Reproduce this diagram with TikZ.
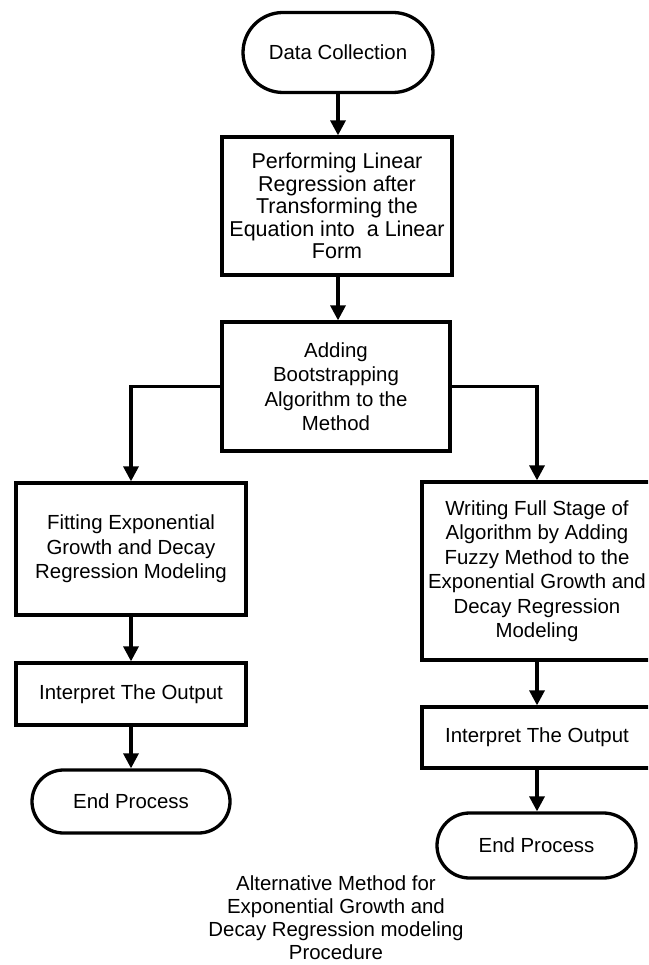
\documentclass[tikz,border=0pt]{standalone}
\usepackage{fontspec}
\setmainfont{Liberation Sans}
\usetikzlibrary{arrows.meta,shapes.misc}
\tikzset{
  box/.style={draw, line width=3.3pt, rectangle, align=center, inner sep=0pt,
    font=\fontsize{20.4}{24.5}\selectfont},
  term/.style={draw, line width=3.3pt, rounded rectangle, align=center, inner sep=0pt,
    font=\fontsize{20.4}{24.5}\selectfont},
  conn/.style={line width=3.3pt, -{Triangle[width=15pt,length=15pt]}},
  captext/.style={align=center, inner sep=0pt, font=\fontsize{20.4}{23}\selectfont}
}
\begin{document}
\begin{tikzpicture}[x=1pt,y=-1pt]
\useasboundingbox (0,0) rectangle (648,965);
\clip (0,0) rectangle (648,965);
\node[term, minimum width=190pt, minimum height=80pt] (d) at (338,52.5) {Data Collection};
\node[box, minimum width=230pt, minimum height=138pt, font=\fontsize{21.5}{22.5}\selectfont] (b1) at (337,206)
  {Performing Linear\\Regression after\\Transforming the\\Equation into\ \ a Linear\\Form};
\node[box, minimum width=228pt, minimum height=129pt] (b2) at (336,386.5)
  {Adding\\Bootstrapping\\Algorithm to the\\Method};
\node[box, minimum width=230pt, minimum height=132pt] (b3) at (131,549)
  {Fitting Exponential\\Growth and Decay\\Regression Modeling};
\node[box, minimum width=230pt, minimum height=178pt] (b4) at (537,571)
  {Writing Full Stage of\\Algorithm by Adding\\Fuzzy Method to the\\Exponential Growth and\\Decay Regression\\Modeling};
\node[box, minimum width=230pt, minimum height=62pt] (b5) at (131,694) {Interpret The Output};
\node[box, minimum width=230pt, minimum height=61pt] (b6) at (537,737.5) {Interpret The Output};
\node[term, minimum width=198pt, minimum height=63pt] (e1) at (131,801.5) {End Process};
\node[term, minimum width=199pt, minimum height=65pt] (e2) at (536.5,845.5) {End Process};
\node[captext] (c) at (336,918) {Alternative Method for\\Exponential Growth and\\Decay Regression modeling\\Procedure};
\draw[conn] (d.south) -- (d.south |- b1.north);
\draw[conn] (d.south |- b1.south) -- (d.south |- b2.north);
\draw[conn] (b2.west) -| (b3.north);
\draw[conn] (b2.east) -| (b4.north);
\draw[conn] (b3.south) -- (b5.north);
\draw[conn] (b5.south) -- (e1.north);
\draw[conn] (b4.south) -- (b6.north);
\draw[conn] (b6.south) -- (e2.north -| b6.south);
\end{tikzpicture}
\end{document}
